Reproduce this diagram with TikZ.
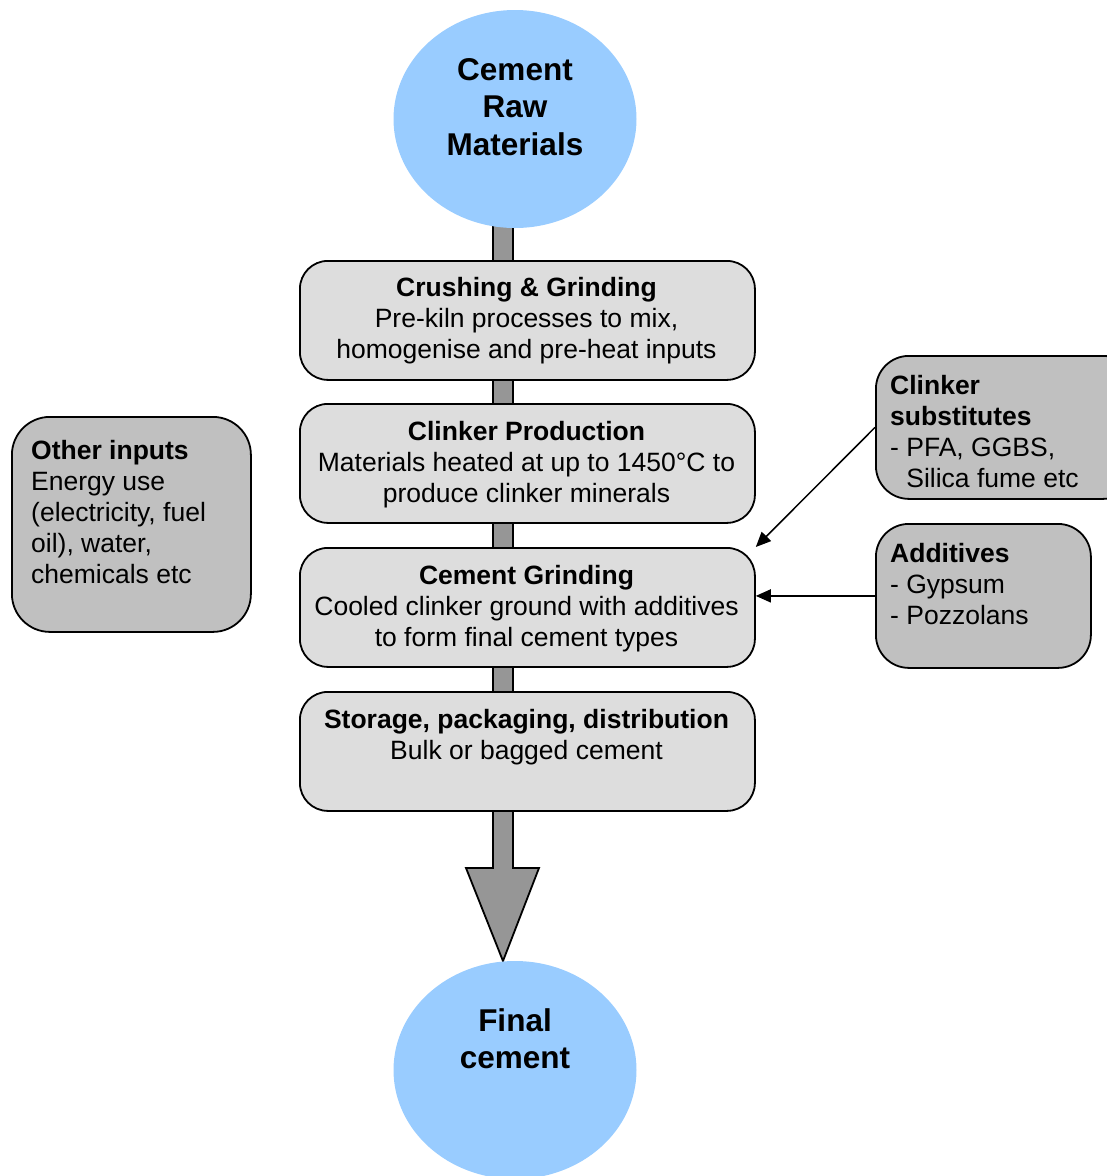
\documentclass[tikz,border=0pt]{standalone}
\usepackage{fontspec}
\setmainfont{Liberation Sans}
\usetikzlibrary{shapes.geometric,arrows.meta}
\definecolor{skyfill}{HTML}{99CCFF}
\definecolor{stepfill}{HTML}{DDDDDD}
\definecolor{inputfill}{HTML}{C0C0C0}
\definecolor{flowfill}{HTML}{969696}
% fixes the height of a first text line, so the node's north edge sits 20pt above its baseline
\newcommand{\firstline}{\rule{0pt}{20pt}}
\newcommand{\firsttitle}{\rule{0pt}{24pt}}

\begin{document}
\begin{tikzpicture}[x=1pt,y=-1pt,
  endpoint/.style={ellipse, fill=skyfill, draw=none, minimum width=243pt, minimum height=218pt, inner sep=0pt},
  stepbox/.style={rectangle, rounded corners=28pt, draw=black, line width=1.8pt, fill=stepfill,
                  minimum width=455pt, minimum height=119pt, anchor=north west, inner sep=0pt},
  inputbox/.style={rectangle, draw=black, line width=1.8pt, fill=inputfill, anchor=north west, inner sep=0pt},
  bodytext/.style={font=\fontsize{26.5}{31}\selectfont, inner sep=0pt},
  steptext/.style={bodytext, align=center, anchor=north},
  sidetext/.style={bodytext, align=left, anchor=north west},
  titletext/.style={font=\fontsize{31.5}{37.5}\selectfont\bfseries, align=center, anchor=north, inner sep=0pt},
  feed/.style={line width=1.5pt, -{Triangle[length=15pt,width=13pt]}},
  flow/.style={line width=1.8pt, draw=black, fill=flowfill, line join=miter},
]
\useasboundingbox (0,0) rectangle (1107,1176);

% main process flow: one block arrow running behind the steps
\coordinate (flowtop) at (503,200);
\coordinate (flowtip) at (503,961);
\draw[flow] (flowtop) ++(-10,0) -- (493,868) -- (466,868) -- (flowtip) -- (539,868) -- (513,868) -- (513,200) -- cycle;

% start and end of the process
\node[endpoint] (raw) at (515,119) {};
\node[endpoint] (final) at (515,1070) {};
\node[titletext] (rawlabel) at (515,56) {\firsttitle Cement\\Raw\\Materials};
\node[titletext] (finallabel) at (515,1007) {\firsttitle Final\\cement};

% process steps
\node[stepbox] (crush) at (299,260) {};
\node[stepbox] (clinker) at (299,403) {};
\node[stepbox] (grind) at (299,547) {};
\node[stepbox] (store) at (299,691) {};

\node[steptext] (crushtext) at (526.5,276.5) {\firstline\textbf{Crushing \& Grinding}\\Pre-kiln processes to mix,\\homogenise and pre-heat inputs};
\node[steptext] (clinkertext) at (526.5,420) {\firstline\textbf{Clinker Production}\\Materials heated at up to 1450°C to\\produce clinker minerals};
\node[steptext] (grindtext) at (526.5,564) {\firstline\textbf{Cement Grinding}\\Cooled clinker ground with additives\\to form final cement types};
\node[steptext] (storetext) at (526.5,708) {\firstline\textbf{Storage, packaging, distribution}\\Bulk or bagged cement};

% side inputs
\node[inputbox, rounded corners=38pt, minimum width=239pt, minimum height=215pt] (other) at (11,416) {};
\node[inputbox, rounded corners=33pt, minimum width=260pt, minimum height=143pt] (subs) at (875,355) {};
\node[inputbox, rounded corners=33pt, minimum width=215pt, minimum height=144pt] (addit) at (875,523) {};

\node[sidetext] (othertext) at (31,439) {\firstline\textbf{Other inputs}\\Energy use\\(electricity, fuel\\oil), water,\\chemicals etc};
\node[sidetext] (substext) at (890,374) {\firstline\textbf{Clinker}\\\textbf{substitutes}\\- PFA, GGBS,\\\hphantom{- }Silica fume etc};
\node[sidetext] (addittext) at (890,542) {\firstline\textbf{Additives}\\- Gypsum\\- Pozzolans};

% feeds into cement grinding
\draw[feed] (subs.west) -- (grind.north east);
\draw[feed] (addit.west) -- (addit.west -| grind.east);
\end{tikzpicture}
\end{document}
